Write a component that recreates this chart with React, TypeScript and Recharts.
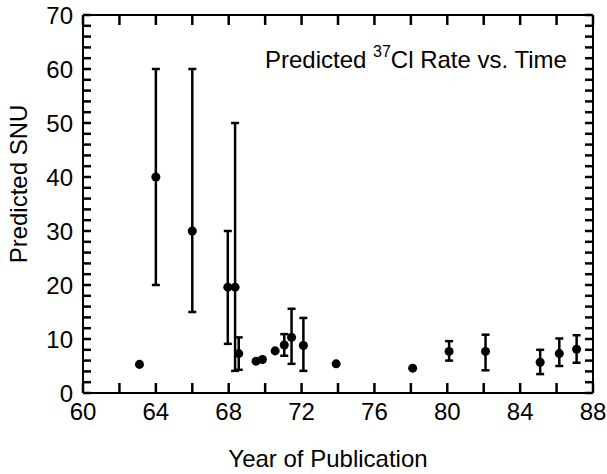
import React from 'react'
import {
    ScatterChart,
    Scatter,
    XAxis,
    YAxis,
    ZAxis,
    ErrorBar,
} from 'recharts'

// year of publication, predicted rate and error range (SNU)
const years = [63.1, 64.0, 66.0, 67.95, 68.35, 68.55, 69.5, 69.85, 70.55, 71.05, 71.45, 72.1, 73.9, 78.1, 80.1, 82.1, 85.1, 86.15, 87.1]
const values = [5.3, 40, 30, 19.6, 19.6, 7.3, 5.9, 6.2, 7.8, 8.9, 10.3, 8.8, 5.4, 4.6, 7.7, 7.7, 5.7, 7.3, 8.1]
const lows = [null, 20, 15, 9.1, 4.1, 4.3, null, null, null, 6.9, 5.4, 4.1, null, null, 6.0, 4.2, 3.5, 5.0, 5.6]
const highs = [null, 60, 60, 30, 50, 10.3, null, null, null, 10.9, 15.6, 13.9, null, null, 9.6, 10.8, 8.0, 10.1, 10.7]

const xTicks = [60, 62, 64, 66, 68, 70, 72, 74, 76, 78, 80, 82, 84, 86, 88]
const yTicks = [0, 2, 4, 6, 8, 10, 12, 14, 16, 18, 20, 22, 24, 26, 28, 30, 32, 34, 36, 38, 40, 42, 44, 46, 48, 50, 52, 54, 56, 58, 60, 62, 64, 66, 68, 70]

const data = years.map((year, i) => ({
    year,
    snu: values[i],
    err: lows[i] === null ? null : [values[i] - (lows[i] as number), (highs[i] as number) - values[i]],
}))

const W = 607
const H = 474
const MARGIN = { top: 14, right: 13, bottom: 0, left: 0 }
const X_AXIS_H = 81
const Y_AXIS_W = 83
// plot box that recharts lays out from the margins and axis sizes above
const box = {
    left: MARGIN.left + Y_AXIS_W,
    right: W - MARGIN.right - 1,
    top: MARGIN.top + 1,
    bottom: H - MARGIN.bottom - X_AXIS_H,
}

const font = '"Liberation Sans", Arial, sans-serif'
const frame = { stroke: '#000', strokeWidth: 2 }

const BottomTick = (props: any) => {
    const { x, y, payload } = props
    const v = payload.value
    if (v % 4 !== 0) return <g />
    return (
        <text x={x} y={y} dy="0.71em" textAnchor="middle" fontSize={24} fontFamily={font} fill="#000">
            {v}
        </text>
    )
}

const LeftTick = (props: any) => {
    const { x, y, payload } = props
    const v = payload.value
    if (v % 10 !== 0) return <g />
    return (
        <text x={x} y={y} dy="0.355em" textAnchor="end" fontSize={24} fontFamily={font} fill="#000">
            {v}
        </text>
    )
}

// inward ticks on all four sides of the frame
const FrameTicks = () => {
    const sx = (v: number) => box.left + ((v - 60) / 28) * (box.right - box.left)
    const sy = (v: number) => box.bottom - (v / 70) * (box.bottom - box.top)
    const tw = 2.5
    return (
        <g>
            {xTicks.map((t) => (
                <line key={`b${t}`} x1={sx(t)} x2={sx(t)} y1={box.bottom} y2={box.bottom - 10} stroke="#000" strokeWidth={tw} />
            ))}
            {xTicks.map((t) => (
                <line key={`t${t}`} x1={sx(t)} x2={sx(t)} y1={box.top} y2={box.top + 10} stroke="#000" strokeWidth={tw} />
            ))}
            {yTicks.map((t) => (
                <line key={`l${t}`} x1={box.left} x2={box.left + 8} y1={sy(t)} y2={sy(t)} stroke="#000" strokeWidth={tw} />
            ))}
            {yTicks.map((t) => (
                <line key={`r${t}`} x1={box.right} x2={box.right - 8} y1={sy(t)} y2={sy(t)} stroke="#000" strokeWidth={tw} />
            ))}
        </g>
    )
}

const App = () => {
    return (
        <div style={{ position: 'absolute', left: 0, top: 0, width: W, height: H, background: '#fff' }}>
            <ScatterChart width={W} height={H} margin={MARGIN}>
                <XAxis
                    type="number"
                    dataKey="year"
                    domain={[60, 88]}
                    ticks={xTicks}
                    interval={0}
                    allowDataOverflow
                    height={X_AXIS_H}
                    tickSize={0}
                    tickMargin={10}
                    tick={BottomTick}
                    tickLine={false}
                    axisLine={frame}
                />
                <XAxis
                    xAxisId="top"
                    orientation="top"
                    type="number"
                    dataKey="year"
                    domain={[60, 88]}
                    allowDataOverflow
                    height={1}
                    tick={false}
                    tickLine={false}
                    axisLine={frame}
                />
                <YAxis
                    type="number"
                    dataKey="snu"
                    domain={[0, 70]}
                    ticks={yTicks}
                    interval={0}
                    allowDataOverflow
                    width={Y_AXIS_W}
                    tickSize={0}
                    tickMargin={10}
                    tick={LeftTick}
                    tickLine={false}
                    axisLine={frame}
                />
                <YAxis
                    yAxisId="right"
                    orientation="right"
                    type="number"
                    dataKey="snu"
                    domain={[0, 70]}
                    allowDataOverflow
                    width={1}
                    tick={false}
                    tickLine={false}
                    axisLine={frame}
                />
                <ZAxis range={[60, 60]} />
                <Scatter data={data} fill="#000" isAnimationActive={false}>
                    <ErrorBar dataKey="err" direction="y" width={4} stroke="#000" strokeWidth={2.5} />
                </Scatter>
                <FrameTicks />
                <text x={265} y={68} fontSize={24} fontFamily={font} fill="#000">
                    Predicted <tspan fontSize={16} dy={-11}>37</tspan>
                    <tspan dy={11}>Cl Rate vs. Time</tspan>
                </text>
                <text
                    x={27}
                    y={184}
                    fontSize={24}
                    fontFamily={font}
                    fill="#000"
                    textAnchor="middle"
                    transform="rotate(-90 27 184)"
                >
                    Predicted SNU
                </text>
                <text x={328} y={467} fontSize={24} fontFamily={font} fill="#000" textAnchor="middle">
                    Year of Publication
                </text>
            </ScatterChart>
        </div>
    )
}

export default App
